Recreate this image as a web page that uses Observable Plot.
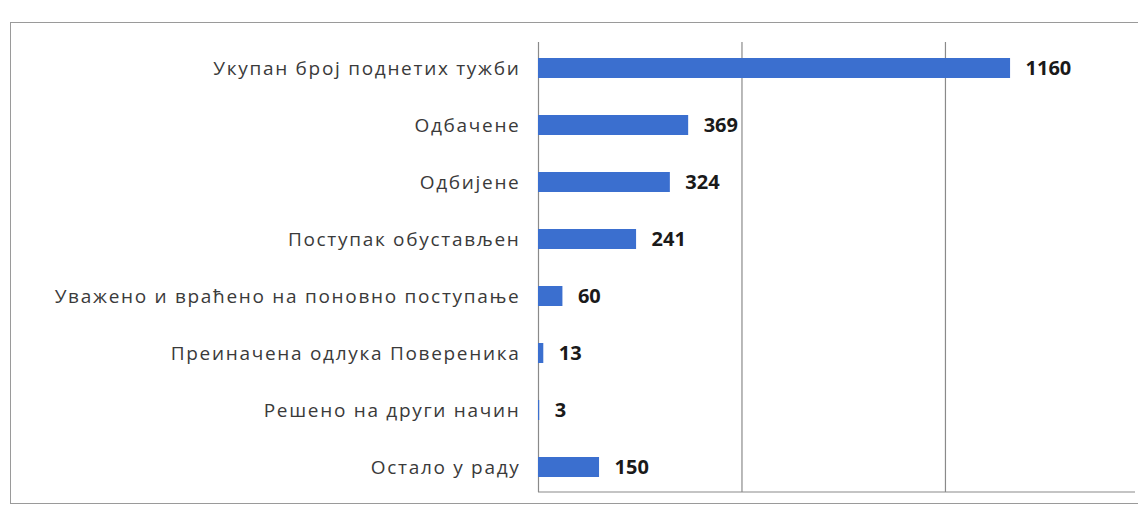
<!DOCTYPE html>
<html>
<head>
<meta charset="utf-8">
<script src="https://cdn.jsdelivr.net/npm/d3@7"></script>
<script src="https://cdn.jsdelivr.net/npm/@observablehq/plot@0.6"></script>
<style>
  html, body { margin: 0; padding: 0; background: #fff; }
  #wrap { position: relative; width: 1138px; height: 512px; overflow: hidden; }
  #border { position: absolute; left: 10px; top: 22px; width: 1140px; height: 482px;
            border: 1.5px solid #9a9a9a; box-sizing: border-box; }
  #chart { position: absolute; left: 0; top: 0; }
  #chart g[aria-label="y-axis tick label"] text { letter-spacing: 1.7px; }
</style>
</head>
<body>
<div id="wrap"><div id="border"></div><div id="chart"></div></div>
<script>
const categories = [
  "Укупан број поднетих тужби",
  "Одбачене",
  "Одбијене",
  "Поступак обустављен",
  "Уважено и враћено на поновно поступање",
  "Преиначена одлука Повереника",
  "Решено на други начин",
  "Остало у раду"
];
const values = [1160, 369, 324, 241, 60, 13, 3, 150];
const gridValues = [0, 500, 1000];

const data = categories.map((c, i) => ({category: c, value: values[i]}));

const chart = Plot.plot({
  width: 1138,
  height: 512,
  marginLeft: 538,
  marginRight: 3,
  marginTop: 42,
  marginBottom: 20,
  style: {fontFamily: "'Open Sans', sans-serif", fontSize: "19px", color: "#3a3a3a", background: "transparent"},
  x: {domain: [0, 1467], axis: null},
  y: {domain: categories, paddingInner: 0.65, paddingOuter: 0.25, label: null, tickSize: 0, tickPadding: 18},
  marks: [
    Plot.ruleX(gridValues, {stroke: "#8a8a8a", strokeWidth: 1.2, strokeOpacity: 1}),
    Plot.barX(data, {x: "value", y: "category", fill: "#3b6fcf"}),
    Plot.text(data, {x: "value", y: "category", text: d => String(d.value), textAnchor: "start", dx: 15,
                     fontFamily: "'Open Sans', sans-serif", fontWeight: "bold", fontSize: 20, fill: "#1a1a1a"})
  ]
});

// bottom axis line using the chart's scales
const xs = chart.scale("x"), ys = chart.scale("y");
const yBottom = ys.range[1];
d3.select(chart).append("line")
  .attr("x1", xs.apply(0)).attr("x2", xs.range[1])
  .attr("y1", yBottom).attr("y2", yBottom)
  .attr("stroke", "#8a8a8a").attr("stroke-width", 1.2);

document.getElementById("chart").appendChild(chart);
</script>
</body>
</html>
